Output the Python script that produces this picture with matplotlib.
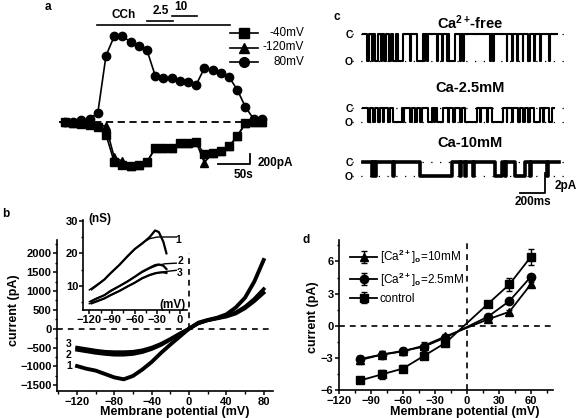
import matplotlib
matplotlib.use("Agg")
import matplotlib.pyplot as plt
from matplotlib.lines import Line2D
from matplotlib.ticker import MultipleLocator

plt.rcParams['font.family'] = ['Liberation Sans', 'DejaVu Sans']
plt.rcParams['font.weight'] = 'bold'
plt.rcParams['mathtext.fontset'] = 'custom'
plt.rcParams['mathtext.rm'] = 'Liberation Sans'
plt.rcParams['mathtext.bf'] = 'Liberation Sans:bold'

# ---- panel a: current vs time (s, pA)
a_time = [0, 13, 26, 39, 52, 65, 78, 91, 104, 117, 130, 143, 156, 169, 182,
          195, 208, 221, 234, 247, 260, 273, 286, 299, 312]
a_80mV = [10, 10, 40, 65, 180, 1327, 1713, 1727, 1593, 1513, 1433, 927, 880,
          880, 813, 793, 747, 1080, 1047, 980, 900, 647, 300, 60, 60]
a_m40mV = [0, -20, -40, -67, -107, -253, -800, -867, -887, -853, -800, -520,
           -520, -520, -420, -420, -407, -640, -610, -580, -487, -287, -25, 0, 0]
a_m120mV = [0, -10, -25, -45, -53, -87, -707, -787, -870, -850, -800, -520,
            -520, -520, -420, -420, -407, -810, -610, -580, -487, -287, -15, 0, 0]

# ---- panel b: I-V curves
b_v = [-120, -110, -100, -90, -80, -70, -60, -50, -40, -30, -20, -10, 0,
       10, 20, 30, 40, 50, 60, 70, 80]
b_i1 = [-990, -1060, -1110, -1200, -1290, -1340, -1250, -1080, -880, -640,
        -420, -210, 0, 160, 230, 290, 380, 560, 820, 1250, 1820]
b_i2 = [-560, -600, -640, -670, -690, -690, -670, -620, -540, -430, -290,
        -140, 0, 150, 230, 280, 340, 430, 580, 790, 1050]
b_i3 = [-500, -540, -580, -610, -620, -620, -610, -570, -500, -400, -270,
        -130, 0, 140, 220, 270, 320, 400, 540, 730, 950]

# inset: conductance (nS)
g_v = [-117, -110, -100, -92, -80, -70, -60, -50, -40, -33, -28, -22, -18]
g1 = [9.0, 10.2, 12.0, 13.9, 16.5, 19.0, 21.3, 23.0, 25.0, 27.0, 26.5, 23.5, 20.0]
g2 = [5.4, 6.2, 7.2, 8.5, 10.0, 11.3, 12.8, 14.4, 15.6, 16.4, 16.6, 16.2, 15.2]
g3 = [4.7, 5.3, 6.2, 7.2, 8.5, 9.8, 11.0, 12.4, 13.4, 13.9, 14.1, 14.2, 14.0]
fit_v = [-120, -100, -80, -60, -50, -40, -30, -20, -5]
fit1 = [8.8, 12.0, 16.5, 21.2, 23.2, 24.5, 25.0, 25.0, 25.0]
fit2 = [5.2, 7.2, 10.0, 12.8, 14.2, 15.4, 16.3, 16.8, 17.0]
fit3 = [4.6, 6.2, 8.5, 11.0, 12.3, 13.3, 14.0, 14.4, 14.8]

# ---- panel c: single channel openings (ms)
c_free = [(32, 43), (67, 80), (93, 120), (139, 149), (165, 181), (208, 219),
          (235, 261), (280, 320), (373, 379), (427, 475), (485, 496), (507, 515),
          (592, 600), (627, 640), (667, 675), (688, 733), (773, 779), (800, 805),
          (1013, 1019), (1040, 1045), (1147, 1152), (1187, 1195), (1227, 1235),
          (1275, 1280), (1320, 1328), (1360, 1368), (1413, 1421), (1480, 1488)]
c_25 = [(40, 53), (80, 91), (120, 131), (155, 165), (200, 213), (240, 307),
        (320, 325), (373, 387), (413, 427), (453, 467), (520, 547), (565, 576),
        (592, 640), (680, 688), (720, 733), (773, 787), (813, 907), (933, 939),
        (987, 1000), (1027, 1120), (1147, 1152), (1187, 1200), (1240, 1253),
        (1280, 1293), (1320, 1333), (1360, 1413), (1435, 1445), (1480, 1507)]
c_10 = [(67, 75), (93, 101), (240, 245), (453, 707), (773, 781), (813, 821),
        (880, 885), (1053, 1107), (1133, 1141), (1213, 1293), (1333, 1339),
        (1467, 1472)]
c_amp = [3.1, 1.6, 1.55]
c_end = [1547, 1520, 1560]
c_titles = ['$\\mathbf{Ca^{2+}\\!}$-free', 'Ca-2.5mM', 'Ca-10mM']

# ---- panel d: single channel I-V
d_v = [-100, -80, -60, -40, -20, 20, 40, 60]
d_ctrl = [-5.1, -4.55, -4.0, -2.8, -1.6, 2.05, 3.85, 6.4]
d_ctrl_err = [0.15, 0.45, 0.35, 0.2, 0.15, 0.1, 0.6, 0.75]
d_25 = [-3.1, -2.7, -2.35, -1.95, -1.1, 0.85, 2.3, 4.55]
d_25_err = [0.3, 0.3, 0.2, 0.2, 0.15, 0.1, 0.2, 0.3]
d_10 = [-3.2, -2.7, -2.4, -1.85, -1.0, 0.6, 1.3, 3.85]
d_10_err = [0.35, 0.3, 0.35, 0.3, 0.2, 0.1, 0.2, 0.2]

W, H = 576, 418
fig = plt.figure(figsize=(W / 100, H / 100), dpi=100)


def box(l, t, r, b):
    return [l / W, 1 - b / H, (r - l) / W, (b - t) / H]


def fp(x, y):
    return (x / W, 1 - y / H)


def ftext(x, y, s, **kw):
    kw.setdefault('ha', 'center')
    kw.setdefault('va', 'center')
    fig.text(x / W, 1 - y / H, s, **kw)


# ================= panel a
ax = fig.add_axes(box(55, 0, 300, 180))
ax.set_xlim(-15.85, 372.5)
ax.set_ylim(-1160, 2440)
ax.axis('off')
ax.plot([-10, 312], [0, 0], color='k', lw=1.3, dashes=(4, 2.5))
mk = dict(color='k', lw=1.2, ms=6, clip_on=False)
ax.plot(a_time, a_m120mV, marker='^', **mk)
ax.plot(a_time, a_m40mV, marker='s', **mk)
ax.plot(a_time, a_80mV, marker='o', **mk)
# drug application bars
ax.plot([51, 261.5], [1940, 1940], color='k', lw=1.2)
ax.plot([129.5, 170.5], [2020, 2020], color='k', lw=1.2)
ax.plot([169, 208.5], [2120, 2120], color='k', lw=1.2)
ftext(124, 15, 'CCh', fontsize=8.5)
ftext(160.5, 11, '2.5', fontsize=8.5)
ftext(181, 6.5, '10', fontsize=8.5)
ftext(48, 7, 'a', fontsize=8.5)
# scale bar
ax.plot([243, 293, 293], [-830, -830, -630], color='k', lw=1.3)
ftext(258, 163, '200pA', fontsize=8.5, ha='left')
ftext(243, 175, '50s', fontsize=8.5)
# legend
for yy, m, lab in [(33, 's', '-40mV'), (47.5, '^', '-120mV'), (62, 'o', '80mV')]:
    fig.add_artist(Line2D([230 / W, 258 / W], [1 - yy / H, 1 - yy / H],
                          color='k', lw=1.2))
    fig.add_artist(Line2D([244 / W], [1 - yy / H], color='k', marker=m, ms=7))
    ftext(304, yy, lab, fontsize=8.5, ha='right', weight='normal')

# ================= panel b
axb = fig.add_axes(box(57, 240, 273, 391))
axb.plot(b_v, b_i3, color='k', lw=2.6)
axb.plot(b_v, b_i2, color='k', lw=2.6)
axb.plot(b_v, b_i1, color='k', lw=2.8)
axb.plot([-141.5, 90], [0, 0], color='k', lw=1.2, dashes=(3.5, 3))
axb.plot([0, 0], [0, 2000], color='k', lw=1.2, dashes=(3.5, 3))
axb.set_xlim(-141.5, 90)
axb.set_ylim(-1650, 2350)
axb.set_xticks([-120, -80, -40, 0, 40, 80])
axb.xaxis.set_minor_locator(MultipleLocator(20))
axb.set_yticks([-1500, -1000, -500, 0, 500, 1000, 1500, 2000])
axb.yaxis.set_minor_locator(MultipleLocator(250))
for s in ['top', 'right']:
    axb.spines[s].set_visible(False)
ftext(69, 344, '3', fontsize=7.5)
ftext(69, 355, '2', fontsize=7.5)
ftext(69, 366, '1', fontsize=7.5)
ftext(6, 214, 'b', fontsize=8.5)
ftext(175, 412, 'Membrane potential (mV)', fontsize=9)
ftext(14, 310, 'current (pA)', fontsize=9, rotation=90)

# inset
axi = fig.add_axes(box(83, 220, 187, 310))
axi.plot(g_v, g1, color='k', lw=1.6)
axi.plot(g_v, g2, color='k', lw=1.6)
axi.plot(g_v, g3, color='k', lw=1.6)
axi.plot(fit_v, fit1, color='k', lw=1.0)
axi.plot(fit_v, fit2, color='k', lw=1.0)
axi.plot(fit_v, fit3, color='k', lw=1.0)
axi.set_xlim(-128.3, 9.2)
axi.set_ylim(2.66, 30.2)
axi.set_xticks([-120, -90, -60, -30, 0])
axi.xaxis.set_minor_locator(MultipleLocator(15))
axi.set_yticks([10, 20, 30])
axi.yaxis.set_minor_locator(MultipleLocator(5))
axi.patch.set_alpha(0)
for s in ['top', 'right']:
    axi.spines[s].set_visible(False)
ftext(178, 240, '1', fontsize=7.5)
ftext(180, 261, '2', fontsize=7.5)
ftext(180, 273, '3', fontsize=7.5)
ftext(88, 219, '(nS)', fontsize=8.5, ha='left')
ftext(186, 305, '(mV)', fontsize=8.5, ha='right')

# ================= panel c
axc = fig.add_axes(box(340, 0, 576, 210))
axc.set_xlim(-186.4, 1699.6)
axc.set_ylim(-24.0, 0)
axc.axis('off')
offs = [-3.9, -12.35, -18.55]
lws = [1.5, 1.5, 2.6]
title_y = [23, 88, 143]
for k, ev in enumerate([c_free, c_25, c_10]):
    amp = c_amp[k]
    t = [0]
    y = [0]
    for s, e in ev:
        t += [s, s, e, e]
        y += [0, -amp, -amp, 0]
    t.append(c_end[k])
    y.append(0)
    for lvl in [0, -amp]:
        axc.plot([-90, 1630], [offs[k] + lvl] * 2, color='k', lw=0.9,
                 linestyle=(0, (1, 6)))
    axc.plot(t, [offs[k] + v for v in y], color='k', lw=lws[k])
    cy = -offs[k] / 0.1143
    oy = cy + amp / 0.1143
    ftext(349, cy + 1, 'C', fontsize=7.5)
    ftext(349, oy + 1, 'O', fontsize=7.5)
    ftext(470, title_y[k], c_titles[k], fontsize=10.5)
axc.plot([1254, 1454, 1454], [-22.1, -22.1, -19.8], color='k', lw=1.3)
ftext(555, 186, '2pA', fontsize=8.5, ha='left')
ftext(533, 202, '200ms', fontsize=8.5)
ftext(337, 17, 'c', fontsize=8.5)

# ================= panel d
axd = fig.add_axes(box(339, 240, 553, 390))
ek = dict(color='k', lw=1.3, ms=6, capsize=2.5, elinewidth=1, clip_on=False)
axd.errorbar(d_v, d_10, yerr=d_10_err, marker='^',
             label='[Ca$^{2+}$]$_\\mathrm{o}$=10mM', **ek)
axd.errorbar(d_v, d_25, yerr=d_25_err, marker='o',
             label='[Ca$^{2+}$]$_\\mathrm{o}$=2.5mM', **ek)
axd.errorbar(d_v, d_ctrl, yerr=d_ctrl_err, marker='s', label='control', **ek)
axd.axhline(0, color='k', lw=1.2, dashes=(3.5, 3))
axd.axvline(0, color='k', lw=1.2, dashes=(3.5, 3))
axd.set_xlim(-120, 81)
axd.set_ylim(-6, 8)
axd.set_xticks([-120, -90, -60, -30, 0, 30, 60])
axd.xaxis.set_minor_locator(MultipleLocator(15))
axd.set_yticks([-6, -3, 0, 3, 6])
axd.yaxis.set_minor_locator(MultipleLocator(1.5))
for s in ['top', 'right']:
    axd.spines[s].set_visible(False)
leg = axd.legend(loc='upper left', bbox_to_anchor=fp(350, 248),
                 bbox_transform=fig.transFigure, frameon=False,
                 prop={'size': 8.5, 'weight': 'normal'}, handlelength=2.3,
                 handletextpad=0.2, labelspacing=0.35, borderpad=0,
                 borderaxespad=0)
ftext(306, 240, 'd', fontsize=8.5)
ftext(465, 412, 'Membrane potential (mV)', fontsize=9)
ftext(313, 317, 'current (pA)', fontsize=9, rotation=90)

for a_ in [axb, axi, axd]:
    for s in ['left', 'bottom']:
        a_.spines[s].set_linewidth(1.2)
    a_.tick_params(which='major', length=3, width=1.1, labelsize=8, pad=1)
    a_.tick_params(which='minor', length=1.8, width=1)
axi.tick_params(which='major', labelsize=8, pad=0.5)

fig.savefig('out.png', dpi=100)
